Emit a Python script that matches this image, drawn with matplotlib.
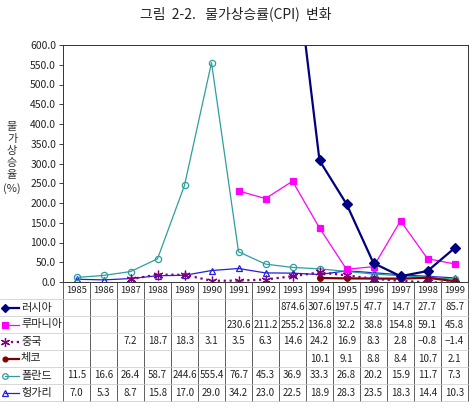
import matplotlib
matplotlib.use("Agg")
import matplotlib.pyplot as plt
import numpy as np

plt.rcParams['font.family'] = ['Noto Sans CJK KR', 'DejaVu Sans']

# === DATA ===
years = ['1985', '1986', '1987', '1988', '1989', '1990', '1991', '1992',
         '1993', '1994', '1995', '1996', '1997', '1998', '1999']
N = None
russia = [N, N, N, N, N, N, N, N, 874.6, 307.6, 197.5, 47.7, 14.7, 27.7, 85.7]
romania = [N, N, N, N, N, N, 230.6, 211.2, 255.2, 136.8, 32.2, 38.8, 154.8, 59.1, 45.8]
china = [N, N, 7.2, 18.7, 18.3, 3.1, 3.5, 6.3, 14.6, 24.2, 16.9, 8.3, 2.8, -0.8, -1.4]
czech = [N, N, N, N, N, N, N, N, N, 10.1, 9.1, 8.8, 8.4, 10.7, 2.1]
poland = [11.5, 16.6, 26.4, 58.7, 244.6, 555.4, 76.7, 45.3, 36.9, 33.3, 26.8, 20.2, 15.9, 11.7, 7.3]
hungary = [7.0, 5.3, 8.7, 15.8, 17.0, 29.0, 34.2, 23.0, 22.5, 18.9, 28.3, 23.5, 18.3, 14.4, 10.3]

names = ['러시아', '루마니아', '중국', '체코', '폴란드', '헝가리']
series = [russia, romania, china, czech, poland, hungary]

# styles: color, marker, linestyle, linewidth, marker size, filled
styles = [
    ('#000080', 'D', '-', 1.6, 5, True),
    ('#FF00FF', 's', '-', 0.9, 5, True),
    ('#800080', (6, 2, 0), ':', 1.6, 7, True),
    ('#800000', 'o', '-', 1.6, 4, True),
    ('#2E9E9E', 'o', '-', 0.9, 4.5, False),
    ('#2020E0', '^', '-', 0.9, 4.5, False),
]

W, H = 469, 408
fig = plt.figure(figsize=(W / 100, H / 100), dpi=100)
fig.patch.set_facecolor('white')

left, right, top, bottom = 63, 468, 45, 282
ax = fig.add_axes([left / W, 1 - bottom / H, (right - left) / W, (bottom - top) / H])

x = np.arange(len(years))
# draw in the reverse order so Russia sits on top
for name, vals, st in list(zip(names, series, styles))[::-1]:
    color, mk, ls, lw, ms, filled = st
    y = np.array([np.nan if v is None else v for v in vals], dtype=float)
    ax.plot(x, y, color=color, linestyle=ls, linewidth=lw, marker=mk, markersize=ms,
            markerfacecolor=color if filled else 'none', markeredgecolor=color,
            markeredgewidth=0.9)

ax.set_xlim(-0.5, len(years) - 0.5)
ax.set_ylim(0, 600)
ax.set_yticks(np.arange(0, 601, 50))
ax.set_yticklabels(['%.1f' % v for v in np.arange(0, 601, 50)], fontsize=7.5)
ax.tick_params(axis='y', length=3, width=0.6, pad=2, colors='#222222')
ax.set_xticks([])
for s in ax.spines.values():
    s.set_linewidth(0.7)
    s.set_color('#333333')

# title and y label
fig.text(236 / W, 1 - 14 / H, '그림  2-2.   물가상승률(CPI)  변화', ha='center', va='center',
         fontsize=10, color='#222222')
fig.text(12 / W, 1 - 158 / H, '물\n가\n상\n승\n율\n(%)', ha='center', va='center',
         fontsize=8, color='#333333', linespacing=1.25)

# === DATA TABLE (pixel coordinates) ===
tab = fig.add_axes([0, 0, 1, 1])
tab.set_xlim(0, W)
tab.set_ylim(H, 0)
tab.axis('off')

col_w = (right - left) / len(years)
head_top, head_bot = bottom, 299
row_h = 17
n_rows = len(names)
table_bot = head_bot + row_h * n_rows

# grid lines
for i in range(len(years) + 1):
    xx = left + i * col_w
    tab.plot([xx, xx], [head_top, table_bot], color='#444444', lw=0.6)
for r in range(n_rows + 1):
    yy = head_bot + r * row_h
    tab.plot([0, right], [yy, yy], color='#c8c8c8', lw=0.5)

for i, yr in enumerate(years):
    tab.text(left + (i + 0.5) * col_w, (head_top + head_bot) / 2, yr,
             ha='center', va='center', fontsize=6.8, color='#222222')

for r, (name, vals, st) in enumerate(zip(names, series, styles)):
    color, mk, ls, lw, ms, filled = st
    yc = head_bot + (r + 0.5) * row_h
    tab.plot([5, 19], [yc, yc], color=color, linestyle=ls, linewidth=lw)
    tab.plot([5], [yc], color=color, marker=mk, markersize=ms - 0.5,
             markerfacecolor=color if filled else 'none', markeredgecolor=color,
             markeredgewidth=0.9)
    tab.text(21, yc, name, ha='left', va='center', fontsize=8, color='#222222')
    for i, v in enumerate(vals):
        if v is None:
            continue
        s = ('%.1f' % v).replace('-', '−')
        tab.text(left + (i + 0.5) * col_w, yc, s, ha='center', va='center',
                 fontsize=7, color='#222222')

fig.savefig('out.png', dpi=100)
